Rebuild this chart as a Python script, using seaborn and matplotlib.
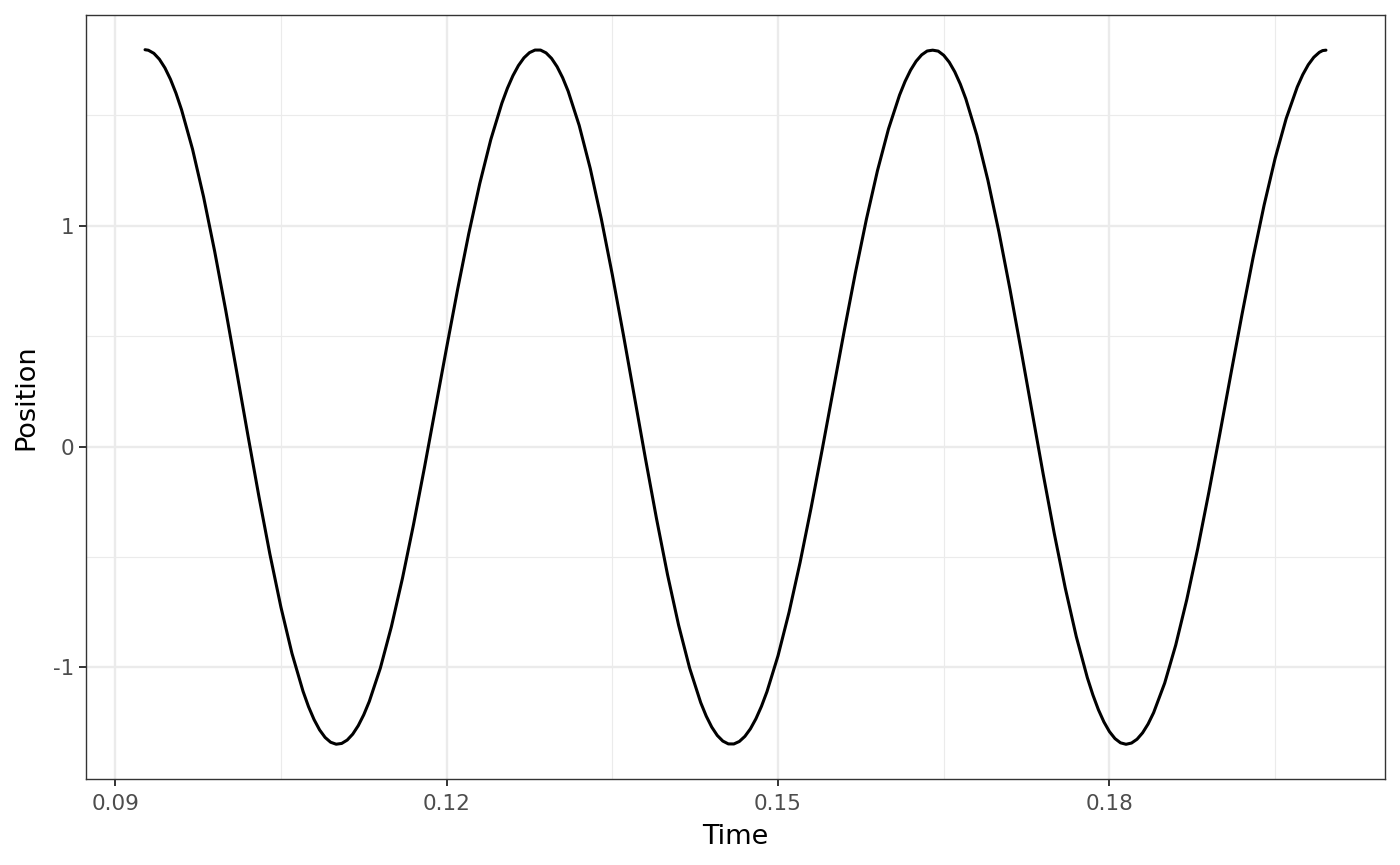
import matplotlib
matplotlib.use("Agg")
import matplotlib.pyplot as plt
import seaborn as sns
import pandas as pd
from matplotlib.ticker import FixedLocator

time = [0.0927, 0.093, 0.0935, 0.094, 0.0945, 0.095, 0.0955, 0.096, 0.097, 0.098,
        0.099, 0.100, 0.101, 0.102, 0.103, 0.104, 0.105, 0.106, 0.107, 0.1075,
        0.108, 0.1085, 0.109, 0.1095, 0.110, 0.1105, 0.111, 0.1115, 0.112, 0.1125,
        0.113, 0.114, 0.115, 0.116, 0.117, 0.118, 0.119, 0.120, 0.121, 0.122,
        0.123, 0.124, 0.125, 0.1255, 0.126, 0.1265, 0.127, 0.1275, 0.128, 0.1285,
        0.129, 0.1295, 0.130, 0.1305, 0.131, 0.132, 0.133, 0.134, 0.135, 0.136,
        0.137, 0.138, 0.139, 0.140, 0.141, 0.142, 0.143, 0.1435, 0.144, 0.1445,
        0.145, 0.1455, 0.146, 0.1465, 0.147, 0.1475, 0.148, 0.1485, 0.149, 0.150,
        0.151, 0.152, 0.153, 0.154, 0.155, 0.156, 0.157, 0.158, 0.159, 0.160,
        0.161, 0.1615, 0.162, 0.1625, 0.163, 0.1635, 0.164, 0.1645, 0.165, 0.1655,
        0.166, 0.1665, 0.167, 0.168, 0.169, 0.170, 0.171, 0.172, 0.173, 0.174,
        0.175, 0.176, 0.177, 0.178, 0.1785, 0.179, 0.1795, 0.180, 0.1805, 0.181,
        0.1815, 0.182, 0.1825, 0.183, 0.1835, 0.184, 0.185, 0.186, 0.187, 0.188,
        0.189, 0.190, 0.191, 0.192, 0.193, 0.194, 0.195, 0.196, 0.197, 0.1975,
        0.198, 0.1985, 0.199, 0.1993, 0.1996]

position = [1.7980, 1.7957, 1.7816, 1.7548, 1.7156, 1.6642, 1.6011, 1.5267, 1.3472, 1.1309,
            0.8850, 0.6182, 0.3381, 0.0543, -0.2240, -0.4871, -0.7277, -0.9373, -1.1087, -1.1788,
            -1.2372, -1.2838, -1.3181, -1.3398, -1.3487, -1.3452, -1.3299, -1.3031, -1.2647, -1.2152,
            -1.1549, -1.0039, -0.8161, -0.5974, -0.3541, -0.0933, 0.1770, 0.4484, 0.7134, 0.9637,
            1.1917, 1.3912, 1.5556, 1.6232, 1.6802, 1.7263, 1.7613, 1.7848, 1.7965, 1.7964,
            1.7838, 1.7586, 1.7211, 1.6715, 1.6103, 1.4551, 1.2603, 1.0323, 0.7784, 0.5067,
            0.2259, -0.0550, -0.3268, -0.5811, -0.8093, -1.0044, -1.1601, -1.2213, -1.2712, -1.3090,
            -1.3344, -1.3473, -1.3476, -1.3362, -1.3132, -1.2789, -1.2333, -1.1770, -1.1104, -0.9478,
            -0.7505, -0.5244, -0.2761, -0.0130, 0.2569, 0.5261, 0.7864, 1.0300, 1.2498, 1.4392,
            1.5925, 1.6544, 1.7056, 1.7458, 1.7747, 1.7922, 1.7960, 1.7917, 1.7728, 1.7414,
            1.6978, 1.6423, 1.5755, 1.4099, 1.2062, 0.9710, 0.7118, 0.4370, 0.1553, -0.1241,
            -0.3923, -0.6408, -0.8614, -1.0473, -1.1251, -1.1923, -1.2478, -1.2916, -1.3232, -1.3424,
            -1.3490, -1.3434, -1.3261, -1.2972, -1.2571, -1.2058, -1.0720, -0.8996, -0.6937, -0.4606,
            -0.2070, 0.0592, 0.3304, 0.5985, 0.8554, 1.0937, 1.3059, 1.4863, 1.6290, 1.6849,
            1.7300, 1.7638, 1.7862, 1.7941, 1.7960]

x_major = [0.09, 0.12, 0.15, 0.18]
x_labels = ["0.09", "0.12", "0.15", "0.18"]
x_minor = [0.105, 0.135, 0.165, 0.195]
y_major = [-1, 0, 1]
y_labels = ["-1", "0", "1"]
y_minor = [-0.5, 0.5, 1.5]

df = pd.DataFrame({"Time": time, "Position": position})

sns.set_theme(style="white")
plt.rcParams["font.family"] = ["DejaVu Sans"]

fig = plt.figure(figsize=(14, 8.65), dpi=100)
ax = fig.add_axes([86 / 1400, 1 - 779 / 865, (1385 - 86) / 1400, (779 - 15) / 865])

sns.lineplot(data=df, x="Time", y="Position", ax=ax, color="black",
             linewidth=2.2, sort=False, estimator=None)

span_x = max(time) - min(time)
span_y = max(position) - min(position)
ax.set_xlim(min(time) - 0.05 * span_x, max(time) + 0.05 * span_x)
ax.set_ylim(min(position) - 0.05 * span_y, max(position) + 0.05 * span_y)

ax.xaxis.set_major_locator(FixedLocator(x_major))
ax.xaxis.set_minor_locator(FixedLocator(x_minor))
ax.yaxis.set_major_locator(FixedLocator(y_major))
ax.yaxis.set_minor_locator(FixedLocator(y_minor))
ax.set_xticklabels(x_labels)
ax.set_yticklabels(y_labels)

ax.set_axisbelow(True)
ax.grid(which="major", color="#EBEBEB", linewidth=1.7)
ax.grid(which="minor", color="#EBEBEB", linewidth=0.85)

for sp in ax.spines.values():
    sp.set_color("#333333")
    sp.set_linewidth(1.0)
    sp.set_visible(True)

ax.tick_params(which="major", axis="x", length=5, width=1.4, color="#333333",
               labelcolor="#4D4D4D", labelsize=15.5, pad=5.5, direction="out",
               bottom=True)
ax.tick_params(which="major", axis="y", length=5, width=1.4, color="#333333",
               labelcolor="#4D4D4D", labelsize=15.5, pad=3.5, direction="out",
               left=True)
ax.tick_params(which="minor", length=0, bottom=False, left=False)

ax.set_xlabel("Time", fontsize=19.5, color="black", labelpad=7.5)
ax.set_ylabel("Position", fontsize=19.5, color="black", labelpad=9.5)

fig.savefig("out.png", dpi=100, facecolor="white")
